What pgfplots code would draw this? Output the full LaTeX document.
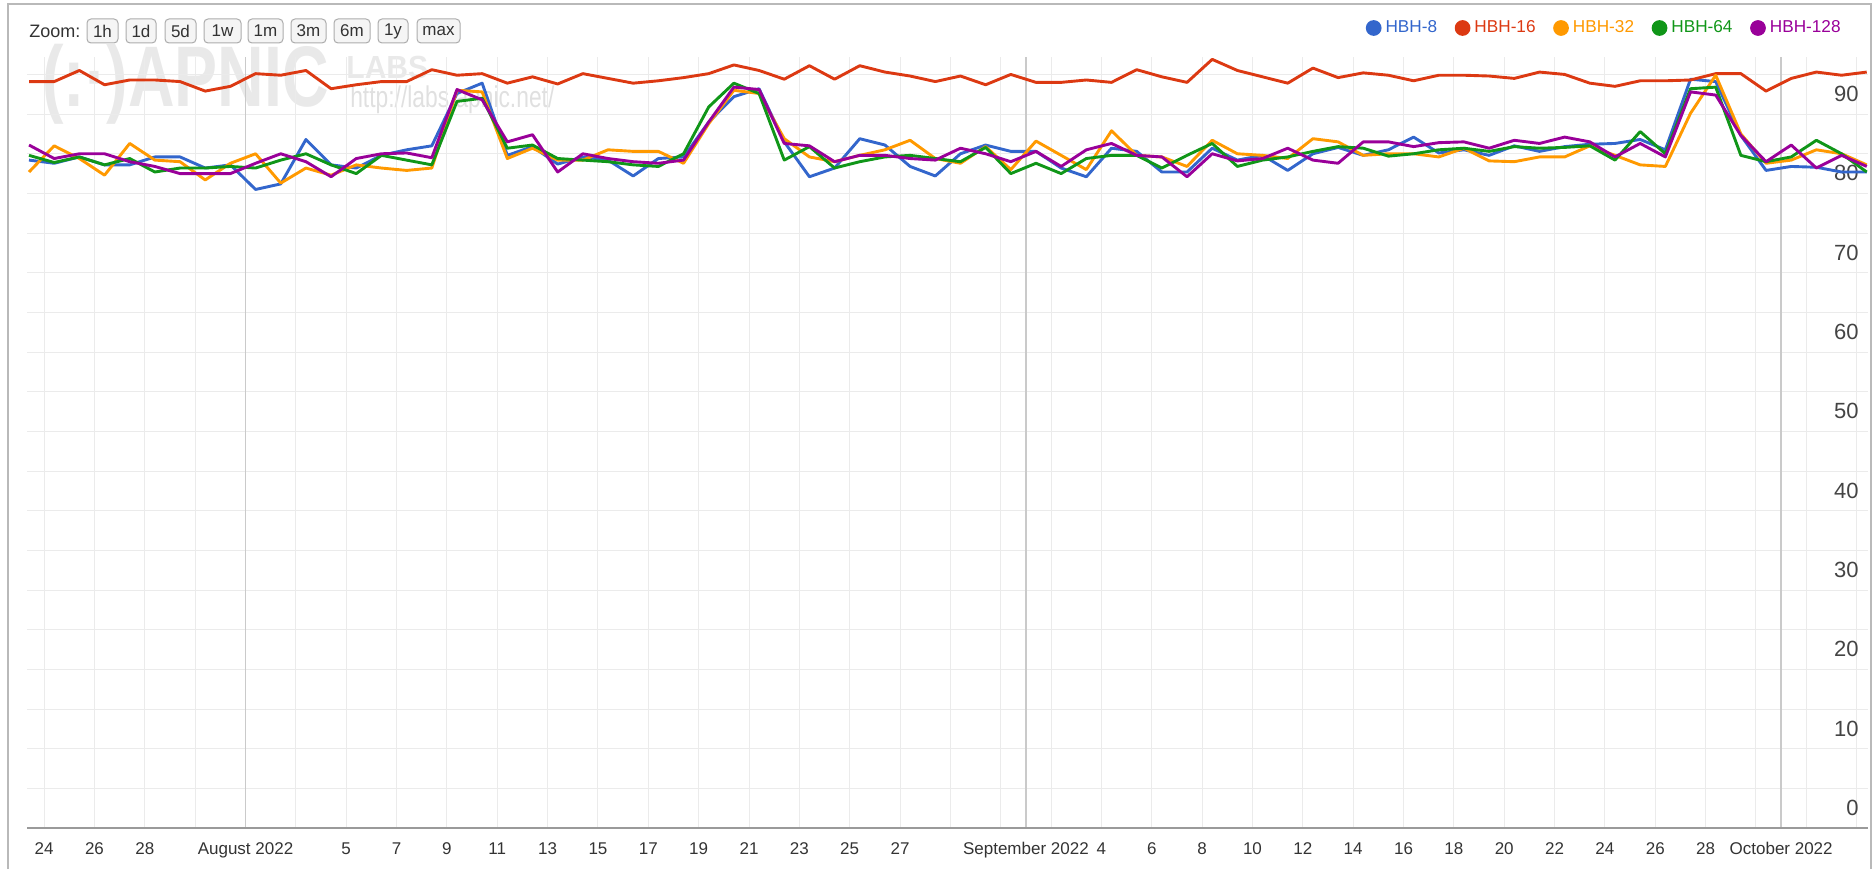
\documentclass[border=0pt]{standalone}
\usepackage{fontspec}
\setmainfont{Liberation Sans}
\usepackage{pgfplots}
\usepackage{pgfplotstable}
\pgfplotsset{compat=1.18}

\definecolor{hbh8}{HTML}{3366CC}
\definecolor{hbh16}{HTML}{DC3912}
\definecolor{hbh32}{HTML}{FF9900}
\definecolor{hbh64}{HTML}{109618}
\definecolor{hbh128}{HTML}{990099}
\definecolor{gridgray}{HTML}{EBEBEB}
\definecolor{monthgray}{HTML}{CACACA}
\definecolor{axisgray}{HTML}{9A9A9A}
\definecolor{labelgray}{HTML}{444444}
\definecolor{txt}{HTML}{333333}
\newcommand\fs[1]{\fontsize{#1}{#1}\selectfont}

% x = days after 1 Aug 2022 (one point a day)
\pgfplotstableread{
x     b     r     o     g     p
-8.6  84.2  94.1  82.7  84.8  86.1
-7.6  83.8  94.1  86.0  83.9  84.4
-6.6  84.6  95.5  84.4  84.6  85.0
-5.6  83.6  93.7  82.3  83.6  85.0
-4.6  83.6  94.3  86.3  84.4  84.0
-3.6  84.6  94.3  84.2  82.7  83.4
-2.6  84.6  94.1  84.0  83.2  82.5
-1.6  83.2  92.9  81.7  83.2  82.5
-0.6  83.6  93.5  83.8  83.4  82.5
0.4   80.5  95.1  85.0  83.2  83.8
1.4   81.2  94.9  81.3  84.2  85.0
2.4   86.8  95.5  83.2  85.0  84.0
3.4   83.6  93.2  82.3  83.6  82.1
4.4   83.2  93.7  83.6  82.5  84.4
5.4   84.8  94.1  83.2  84.8  85.0
6.4   85.5  94.1  82.9  84.2  85.1
7.4   86.0  95.6  83.2  83.6  84.5
8.4   92.6  94.9  93.0  91.6  93.1
9.4   93.9  95.1  92.8  92.0  91.8
10.4  84.8  93.9  84.4  85.7  86.5
11.4  85.9  94.7  85.7  86.1  87.4
12.4  83.7  93.8  84.2  84.4  82.7
13.4  84.6  95.1  84.2  84.2  85.0
14.4  84.2  94.5  85.5  84.0  84.4
15.4  82.2  93.9  85.3  83.6  84.0
16.4  84.4  94.2  85.3  83.4  83.8
17.4  84.6  94.6  83.8  85.0  84.2
18.4  89.0  95.1  88.8  90.9  89.0
19.4  92.2  96.2  93.0  93.9  93.4
20.4  93.2  95.5  92.6  92.6  93.1
21.4  86.5  94.4  86.9  84.2  86.3
22.4  82.1  96.1  84.6  85.9  86.0
23.4  83.2  94.4  84.0  83.2  84.0
24.4  86.9  96.1  84.8  84.0  84.8
25.4  86.1  95.3  85.5  84.6  84.8
26.4  83.4  94.8  86.7  84.8  84.4
27.4  82.2  94.1  84.4  84.4  84.2
28.4  85.0  94.8  83.8  84.0  85.7
29.4  86.1  93.7  85.9  85.8  85.0
30.4  85.3  95.0  83.0  82.5  84.0
31.4  85.3  94.0  86.6  83.8  85.3
32.4  83.2  94.0  84.8  82.5  83.4
33.4  82.1  94.3  83.0  84.4  85.5
34.4  85.7  94.0  87.9  84.8  86.3
35.4  85.3  95.6  84.8  84.8  84.8
36.4  82.7  94.7  84.6  83.2  84.6
37.4  82.7  94.0  83.4  84.8  82.1
38.4  85.7  96.9  86.7  86.3  85.0
39.4  84.2  95.5  85.0  83.4  84.1
40.4  84.8  94.7  84.8  84.2  84.4
41.4  82.9  93.9  84.4  84.6  85.7
42.4  85.0  95.8  86.9  85.3  84.2
43.4  85.8  94.6  86.5  85.9  83.8
44.4  84.8  95.2  84.8  85.7  86.5
45.4  85.5  94.9  85.0  84.7  86.5
46.4  87.1  94.2  85.0  85.0  85.9
47.4  85.1  94.9  84.6  85.5  86.4
48.4  85.5  94.9  85.7  85.7  86.5
49.4  84.8  94.8  84.1  85.3  85.7
50.4  86.0  94.5  84.0  85.9  86.7
51.4  85.3  95.3  84.6  85.7  86.3
52.4  85.9  95.0  84.6  85.8  87.1
53.4  86.2  93.9  86.0  86.0  86.5
54.4  86.3  93.5  84.8  84.2  84.6
55.4  86.8  94.2  83.6  87.8  86.3
56.4  85.5  94.2  83.4  85.0  84.6
57.4  94.4  94.3  90.1  93.2  92.8
58.4  94.1  95.1  94.9  93.4  92.4
59.4  87.3  95.1  87.5  84.8  87.3
60.4  82.9  92.9  83.8  84.0  84.0
61.4  83.4  94.5  84.2  84.6  86.1
62.4  83.3  95.3  85.5  86.7  83.2
63.4  82.7  94.9  85.0  85.0  84.8
64.4  82.7  95.3  83.6  82.7  83.4
}\hbhdata

\begin{document}
\begin{tikzpicture}
\useasboundingbox (0,0) rectangle (937.5pt,434.5pt);

% outer frame
\draw[gray!55, line width=0.9pt] (4pt,0) -- (4pt,432.5pt) -- (935.5pt,432.5pt) -- (935.5pt,0);

% zoom bar
\node[anchor=west, inner sep=0pt, font=\fs{9}, text=txt] at (14.5pt,419pt) {Zoom:};
\foreach \a/\b/\t in {43.5/59/1h, 63/78/1d, 82.5/98/5d, 102/120.5/1w, 124/141.5/1m, 145.5/163/3m, 167/185/6m, 189/204/1y, 208.5/230/max}{
  \draw[rounded corners=2pt, draw=gray!65, fill=gray!8, line width=0.5pt] (\a pt,413pt) rectangle (\b pt,425pt);
  \node[font=\fs{8.5}, text=txt, inner sep=0pt] at ({(\a+\b)/2*1pt},419pt) {\t};
}

% watermark
\node[anchor=west, inner sep=0pt, text=gray!17, font=\fs{43}\bfseries, xscale=0.75] at (21pt,392.5pt) {(:·)APNIC};
\node[anchor=west, inner sep=0pt, text=gray!17, font=\fs{16}\bfseries, xscale=0.94] at (173pt,401pt) {LABS};
\node[anchor=west, inner sep=0pt, text=gray!24, font=\fs{15}, xscale=0.76] at (175pt,384.5pt) {http://labs.apnic.net/};

\begin{axis}[
  at={(13.5pt,20.5pt)}, anchor=south west,
  scale only axis, width=920.5pt, height=385.5pt,
  xmin=-8.68, xmax=64.45, ymin=0, ymax=97.2,
  axis line style={draw=none},
  major tick length=0pt, minor tick length=0pt,
  grid=both,
  major grid style={gridgray, line width=0.5pt},
  minor grid style={gridgray, line width=0.5pt},
  ytick={0,10,...,90}, minor ytick={5,15,...,95},
  yticklabel pos=right,
  /pgf/number format/assume math mode=true,
  yticklabel style={anchor=south east, inner sep=0pt, xshift=-4.5pt, yshift=6pt, font=\fs{11}, text=labelgray},
  xtick={-8,-6,-4,-2,2,4,6,8,10,12,14,16,18,20,22,24,26,28,30,32,34,36,38,40,42,44,46,48,50,52,54,56,58,60,62,64},
  xticklabels={24,26,28,{},{},5,7,9,11,13,15,17,19,21,23,25,27,{},{},{},4,6,8,10,12,14,16,18,20,22,24,26,28,{},{},{}},
  extra x ticks={0,31,61},
  extra x tick labels={August 2022,September 2022,October 2022},
  extra x tick style={grid=major, major grid style={monthgray, line width=0.8pt}},
  xticklabel style={anchor=base, inner sep=0pt, yshift=-13pt, font=\fs{8.5}, text=txt},
  legend columns=5,
  legend image code/.code={\fill[#1] (0pt,0pt) circle (3.2pt);},
  legend style={at={(1,1)}, anchor=east, xshift=-11.5pt, yshift=14.5pt, draw=none, fill=none, inner sep=0pt, font=\fs{8.6}, /tikz/every even column/.append style={column sep=6.8pt}},
  every axis plot/.append style={line width=1.45pt, line join=round, mark=none},
]
\draw[axisgray, line width=0.9pt] (rel axis cs:0,0) -- (rel axis cs:1,0);
\addplot[hbh8] table[x=x, y=b] {\hbhdata};
\addlegendentry[text=hbh8]{HBH-8}
\addplot[hbh16] table[x=x, y=r] {\hbhdata};
\addlegendentry[text=hbh16]{HBH-16}
\addplot[hbh32] table[x=x, y=o] {\hbhdata};
\addlegendentry[text=hbh32]{HBH-32}
\addplot[hbh64] table[x=x, y=g] {\hbhdata};
\addlegendentry[text=hbh64]{HBH-64}
\addplot[hbh128] table[x=x, y=p] {\hbhdata};
\addlegendentry[text=hbh128]{HBH-128}
\end{axis}
\end{tikzpicture}
\end{document}
